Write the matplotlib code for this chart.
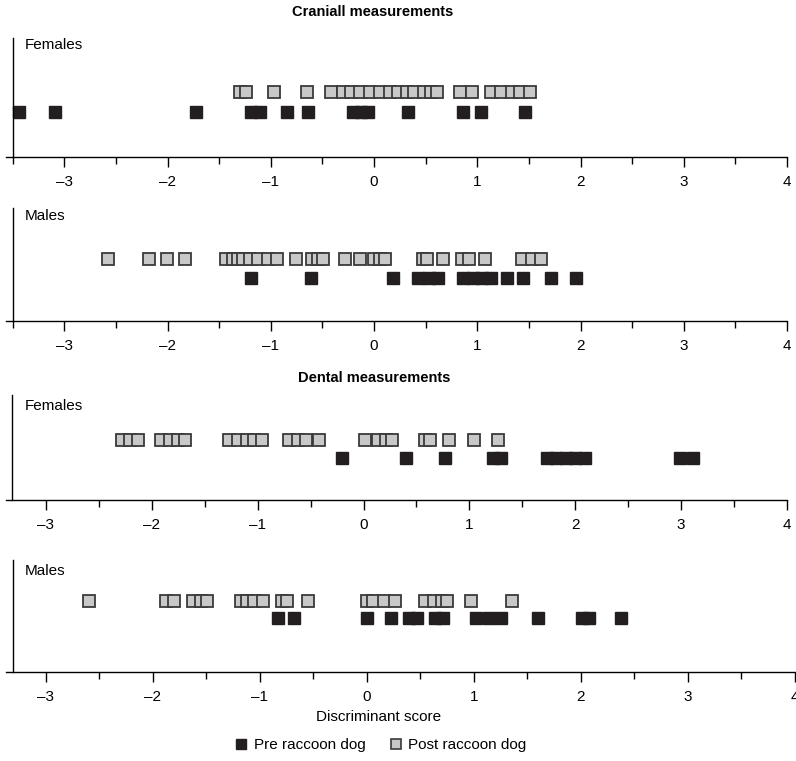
import matplotlib
matplotlib.use("Agg")
import matplotlib.pyplot as plt
from matplotlib.ticker import MultipleLocator
from matplotlib.lines import Line2D

plt.rcParams['font.family'] = ['Liberation Sans', 'DejaVu Sans']

# discriminant scores
cran_fem_pre = [-3.44, -3.09, -1.72, -1.19, -1.10, -0.84, -0.64, -0.20, -0.13, -0.06,
                0.33, 0.86, 1.04, 1.46]
cran_fem_post = [-1.30, -1.24, -0.97, -0.65, -0.42, -0.30, -0.22, -0.14, -0.04, 0.06,
                 0.15, 0.23, 0.32, 0.39, 0.48, 0.55, 0.61, 0.83, 0.95, 1.13, 1.23,
                 1.34, 1.41, 1.51]
cran_mal_pre = [-1.19, -0.61, 0.18, 0.43, 0.53, 0.62, 0.86, 0.96, 1.05, 1.13, 1.29,
                1.44, 1.71, 1.96]
cran_mal_post = [-2.58, -2.18, -2.01, -1.83, -1.43, -1.37, -1.32, -1.27, -1.20, -1.12,
                 -1.03, -0.94, -0.76, -0.60, -0.54, -0.49, -0.28, -0.14, 0.00, 0.06,
                 0.11, 0.47, 0.51, 0.67, 0.85, 0.92, 1.07, 1.43, 1.53, 1.62]
dent_fem_pre = [-0.20, 0.40, 0.77, 1.22, 1.30, 1.73, 1.82, 1.91, 2.00, 2.09, 2.99, 3.11]
dent_fem_post = [-2.28, -2.21, -2.13, -1.91, -1.83, -1.75, -1.69, -1.27, -1.19, -1.10,
                 -1.03, -0.96, -0.70, -0.62, -0.54, -0.42, 0.01, 0.14, 0.21, 0.27,
                 0.58, 0.63, 0.81, 1.04, 1.27]
dent_mal_pre = [-0.83, -0.68, 0.00, 0.23, 0.39, 0.47, 0.64, 0.71, 1.02, 1.14, 1.25,
                1.60, 2.01, 2.08, 2.37]
dent_mal_post = [-2.60, -1.88, -1.80, -1.62, -1.55, -1.49, -1.18, -1.12, -1.05, -0.97,
                 -0.79, -0.75, -0.55, 0.00, 0.06, 0.16, 0.26, 0.54, 0.63, 0.70, 0.75,
                 0.97, 1.36]

W, H = 796, 761
fig = plt.figure(figsize=(W / 100, H / 100), dpi=100)

def px(x0, y0, x1, y1):
    return [x0 / W, 1 - y1 / H, (x1 - x0) / W, (y1 - y0) / H]

# (rect in px, xlim, y-axis position, grey row, black row, label, label px)
panels = [
    (px(6, 38, 787, 157), (-3.565, 4), -3.5, 0.546, 0.378, "Females", 45, cran_fem_pre, cran_fem_post),
    (px(6, 208, 787, 321), (-3.565, 4), -3.5, 0.549, 0.381, "Males", 216, cran_mal_pre, cran_mal_post),
    (px(6, 395, 787, 500), (-3.377, 4), -3.32, 0.571, 0.40, "Females", 406, dent_fem_pre, dent_fem_post),
    (px(6, 560, 795, 672), (-3.371, 4), -3.31, 0.634, 0.482, "Males", 571, dent_mal_pre, dent_mal_post),
]

grey = '#c8c8c8'
dark = '#231f20'

for rect, xl, yax, yg, yb, lab, ly, pre, post in panels:
    ax = fig.add_axes(rect)
    ax.set_xlim(*xl)
    ax.set_ylim(0, 1)
    ax.plot(post, [yg] * len(post), ls='none', marker='s', ms=8.6, mfc=grey,
            mec='#3a3a3a', mew=1.3)
    ax.plot(pre, [yb] * len(pre), ls='none', marker='s', ms=8.6, mfc=dark,
            mec=dark, mew=1.0)
    ax.spines['top'].set_visible(False)
    ax.spines['right'].set_visible(False)
    ax.spines['left'].set_position(('data', yax))
    ax.spines['left'].set_linewidth(1.0)
    ax.spines['bottom'].set_linewidth(1.0)
    ax.set_yticks([])
    ax.set_xticks([-3, -2, -1, 0, 1, 2, 3, 4])
    ax.set_xticklabels(['\u20133', '\u20132', '\u20131', '0', '1', '2', '3', '4'])
    ax.xaxis.set_minor_locator(MultipleLocator(0.5))
    ax.tick_params(axis='x', which='major', length=7, width=1.0, labelsize=11, pad=6)
    ax.tick_params(axis='x', which='minor', length=5, width=1.0)
    ax.patch.set_alpha(0)
    fig.text(25 / W, 1 - ly / H, lab, fontsize=11, va='center', ha='left')

fig.text(373 / W, 1 - 12 / H, "Craniall measurements", fontsize=10.5,
         fontweight='bold', ha='center', va='center')
fig.text(374 / W, 1 - 378 / H, "Dental measurements", fontsize=10.5,
         fontweight='bold', ha='center', va='center')
fig.text(379 / W, 1 - 717 / H, "Discriminant score", fontsize=11,
         ha='center', va='center')

handles = [
    Line2D([], [], ls='none', marker='s', ms=7, mfc=dark, mec=dark),
    Line2D([], [], ls='none', marker='s', ms=7, mfc=grey, mec='#3a3a3a', mew=1.2),
]
fig.legend(handles, ["Pre raccoon dog", "Post raccoon dog"], loc='center',
           bbox_to_anchor=(380 / W, 1 - 745 / H), ncol=2, frameon=False,
           fontsize=11, handletextpad=0.3, columnspacing=1.5, handlelength=1.0)

fig.savefig("out.png", dpi=100)
